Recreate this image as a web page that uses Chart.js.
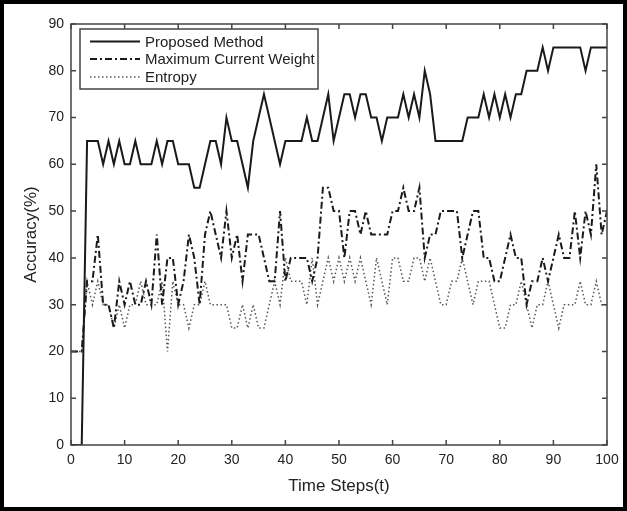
<!DOCTYPE html>
<html>
<head>
<meta charset="utf-8">
<script src="https://cdn.jsdelivr.net/npm/chart.js@4.4.0/dist/chart.umd.min.js"></script>
<style>
  html, body { margin: 0; background: #fff; }
  #wrap { position: relative; width: 627px; height: 511px; }
</style>
</head>
<body>
<div id="wrap"><canvas id="chart" width="627" height="511"></canvas></div>
<script>
// time steps (x axis)
const steps = [0,1,2,3,4,5,6,7,8,9,10,11,12,13,14,15,16,17,18,19,20,
  21,22,23,24,25,26,27,28,29,30,31,32,33,34,35,36,37,38,39,40,
  41,42,43,44,45,46,47,48,49,50,51,52,53,54,55,56,57,58,59,60,
  61,62,63,64,65,66,67,68,69,70,71,72,73,74,75,76,77,78,79,80,
  81,82,83,84,85,86,87,88,89,90,91,92,93,94,95,96,97,98,99,100];

const proposed = [0,0,0,65,65,65,60,65,60,65,60,60,65,60,60,60,65,60,65,65,60,
  60,60,55,55,60,65,65,60,70,65,
  65,60,55,65,70,75,70,65,60,65,
  65,65,65,70,65,65,70,75,65,70,
  75,75,70,75,75,70,70,65,70,70,
  70,75,70,75,70,80,75,65,65,65,
  65,65,65,70,70,70,75,70,75,70,
  75,70,75,75,80,80,80,85,80,85,
  85,85,85,85,85,80,85,85,85,85];

const maxWeight = [20,20,20,35,35,45,30,30,25,35,30,35,30,30,35,30,45,30,40,40,30,
  35,45,40,30,45,50,45,40,50,40,
  45,35,45,45,45,40,35,35,50,35,
  40,40,40,40,35,40,55,55,50,50,
  40,50,50,45,50,45,45,45,45,50,
  50,55,50,50,55,40,45,45,50,50,
  50,50,40,45,50,50,40,40,35,35,
  40,45,40,40,30,35,35,40,35,40,
  45,40,40,50,40,50,45,60,45,50];

const entropy = [20,20,20,35,30,35,30,30,25,30,25,30,30,35,30,30,30,35,20,35,30,
  30,25,30,30,35,30,30,30,30,25,
  25,30,25,30,25,25,30,35,30,40,
  35,35,35,30,40,30,35,40,35,40,
  35,40,35,40,35,30,40,35,30,40,
  40,35,35,40,40,35,40,35,30,30,
  35,35,40,35,30,35,35,35,30,25,
  25,30,30,35,30,25,30,30,35,30,
  25,30,30,30,35,30,30,35,30,30];

const xTicks = [0,10,20,30,40,50,60,70,80,90,100];
const yTicks = [0,10,20,30,40,50,60,70,80,90];

const FONT = '"Liberation Sans", Arial, Helvetica, sans-serif';
const INK = '#222';
const AXIS = '#444';

const pts = arr => arr.map((v, i) => ({x: steps[i], y: v}));

// MATLAB-like frame: box, inward ticks on all four sides, legend inside
const frame = {
  id: 'frame',
  afterDraw(chart) {
    const {ctx, chartArea: a, scales: {x, y}} = chart;
    ctx.save();
    ctx.strokeStyle = AXIS;
    ctx.lineWidth = 1.5;
    ctx.strokeRect(a.left, a.top, a.right - a.left, a.bottom - a.top);
    ctx.beginPath();
    const tl = 5;
    xTicks.forEach(v => {
      const px = x.getPixelForValue(v);
      ctx.moveTo(px, a.bottom); ctx.lineTo(px, a.bottom - tl);
      ctx.moveTo(px, a.top); ctx.lineTo(px, a.top + tl);
    });
    yTicks.forEach(v => {
      const py = y.getPixelForValue(v);
      ctx.moveTo(a.left, py); ctx.lineTo(a.left + tl, py);
      ctx.moveTo(a.right, py); ctx.lineTo(a.right - tl, py);
    });
    ctx.stroke();

    // legend
    const lx = a.left + 9, ly = a.top + 5, lw = 238, lh = 60;
    ctx.fillStyle = '#fff';
    ctx.fillRect(lx, ly, lw, lh);
    ctx.strokeStyle = AXIS;
    ctx.lineWidth = 1.5;
    ctx.strokeRect(lx, ly, lw, lh);
    const rows = [ly + 12.5, ly + 30, ly + 48];
    ctx.font = '15px ' + FONT;
    ctx.textBaseline = 'middle';
    chart.data.datasets.forEach((ds, i) => {
      ctx.beginPath();
      ctx.strokeStyle = ds.borderColor;
      ctx.lineWidth = ds.borderWidth;
      ctx.setLineDash(ds.borderDash || []);
      ctx.moveTo(lx + 10, rows[i]); ctx.lineTo(lx + 60, rows[i]);
      ctx.stroke();
      ctx.setLineDash([]);
      ctx.fillStyle = INK;
      ctx.fillText(ds.label, lx + 65, rows[i] + 1);
    });

    // outer border of the figure
    ctx.strokeStyle = '#000';
    ctx.lineWidth = 4;
    ctx.strokeRect(2, 2, chart.width - 4, chart.height - 4);
    ctx.restore();
  }
};

new Chart(document.getElementById('chart'), {
  type: 'line',
  data: {
    datasets: [
      {label: 'Proposed Method', data: pts(proposed), borderColor: '#1a1a1a', borderWidth: 2},
      {label: 'Maximum Current Weight', data: pts(maxWeight), borderColor: '#1a1a1a', borderWidth: 2, borderDash: [7, 3, 2, 3]},
      {label: 'Entropy', data: pts(entropy), borderColor: '#555', borderWidth: 1.5, borderDash: [1.5, 2.5]}
    ]
  },
  options: {
    responsive: false,
    animation: false,
    devicePixelRatio: 1,
    layout: {padding: {left: 0, top: 24, right: 20, bottom: 0}},
    elements: {
      point: {radius: 0},
      line: {tension: 0, borderJoinStyle: 'miter', fill: false}
    },
    plugins: {legend: {display: false}, tooltip: {enabled: false}},
    scales: {
      x: {
        type: 'linear', min: 0, max: 100,
        grid: {display: false, drawTicks: false},
        border: {display: false},
        afterBuildTicks: s => { s.ticks = xTicks.map(v => ({value: v})); },
        afterFit: s => { s.height = 66; },
        ticks: {color: INK, padding: 7, maxRotation: 0, font: {family: FONT, size: 14}},
        title: {display: true, text: 'Time Steps(t)', color: INK, padding: {top: 0, bottom: 14}, font: {family: FONT, size: 17}}
      },
      y: {
        min: 0, max: 90,
        grid: {display: false, drawTicks: false},
        border: {display: false},
        afterBuildTicks: s => { s.ticks = yTicks.map(v => ({value: v})); },
        afterFit: s => { s.width = 71; },
        ticks: {color: INK, padding: 7, font: {family: FONT, size: 14}},
        title: {display: true, text: 'Accuracy(%)', color: INK, padding: {top: 21, bottom: 0}, font: {family: FONT, size: 17}}
      }
    }
  },
  plugins: [frame]
});
</script>
</body>
</html>
